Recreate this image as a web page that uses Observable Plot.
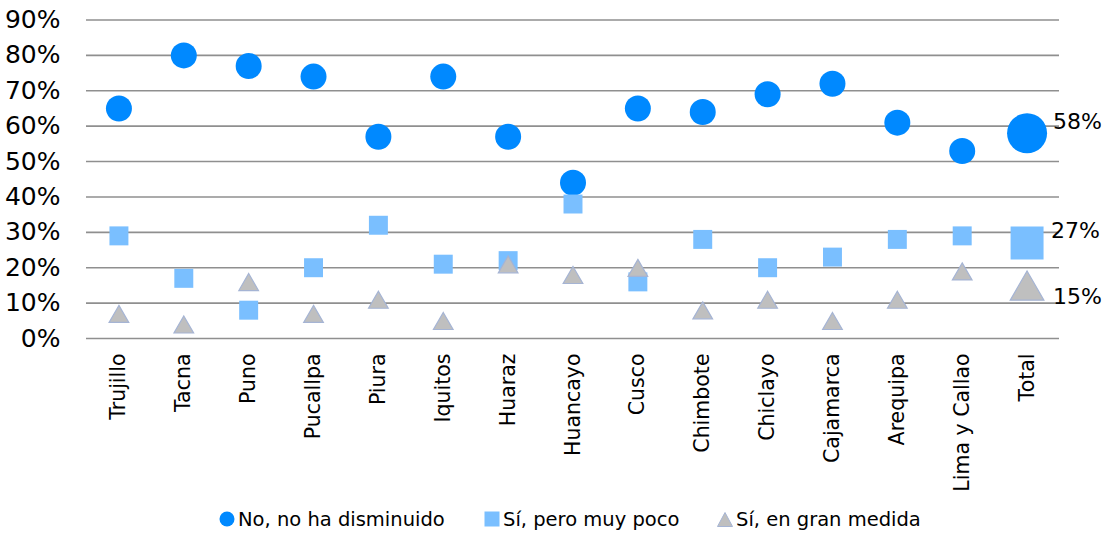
<!DOCTYPE html>
<html>
<head>
<meta charset="utf-8">
<script src="https://cdn.jsdelivr.net/npm/d3@7"></script>
<script src="https://cdn.jsdelivr.net/npm/@observablehq/plot@0.6"></script>
<style>
  html, body { margin: 0; padding: 0; background: #fff; }
  body { width: 1105px; height: 536px; overflow: hidden; position: relative; font-family: "DejaVu Sans", sans-serif; }
  #legend { position: absolute; top: 504px; left: 0; width: 1105px; height: 30px; font-size: 19.5px; color: #000; }
  .item { position: absolute; top: 0; display: flex; align-items: center; white-space: nowrap; height: 30px; }
  .item svg { margin-right: 3px; }
</style>
</head>
<body>
<div id="chart"></div>
<div id="legend"></div>
<script>
const ciudades = ["Trujillo","Tacna","Puno","Pucallpa","Piura","Iquitos","Huaraz","Huancayo","Cusco","Chimbote","Chiclayo","Cajamarca","Arequipa","Lima y Callao","Total"];
const noDisminuido = [65,80,77,74,57,74,57,44,65,64,69,72,61,53,58];
const muyPoco      = [29,17,8,20,32,21,22,38,16,28,20,23,28,29,27];
const granMedida   = [7,4,16,7,11,5,21,18,20,8,11,5,11,19,15];
const yTicks = [0,10,20,30,40,50,60,70,80,90];
const series = ["No, no ha disminuido","Sí, pero muy poco","Sí, en gran medida"];

const font = '"DejaVu Sans", sans-serif';
const cBlue = "#0089ff", cLight = "#7abfff", cGray = "#bfbfbf", cGrayStroke = "#a5b4d4";

const rows = (vals) => ciudades.map((c, i) => ({ciudad: c, v: vals[i]}));
const rNo = rows(noDisminuido), rMp = rows(muyPoco), rGm = rows(granMedida);
const notTotal = d => d.ciudad !== "Total";
const isTotal = d => d.ciudad === "Total";

const chart = Plot.plot({
  width: 1105,
  height: 490,
  marginLeft: 86,
  marginRight: 46,
  marginTop: 19.5,
  marginBottom: 152,
  style: {fontFamily: font, background: "#fff", overflow: "visible"},
  x: {type: "band", domain: ciudades, padding: 0, round: false},
  y: {domain: [0, 90]},
  marks: [
    Plot.ruleY(yTicks, {stroke: "#8f8f8f", strokeWidth: 1.6}),
    Plot.axisY(yTicks, {tickSize: 0, tickPadding: 26, fontSize: 25, tickFormat: d => d + "%", fill: "#000", label: null}),
    Plot.axisX({tickRotate: -90, tickSize: 0, tickPadding: 15, fontSize: 20.5, fill: "#000", label: null}),
    // circles
    Plot.dot(rNo.filter(notTotal), {x: "ciudad", y: "v", r: 13, fill: cBlue}),
    Plot.dot(rNo.filter(isTotal), {x: "ciudad", y: "v", r: 20, fill: cBlue}),
    // squares
    Plot.dot(rMp.filter(notTotal), {x: "ciudad", y: "v", symbol: "square", r: 10.7, fill: cLight}),
    Plot.dot(rMp.filter(isTotal), {x: "ciudad", y: "v", symbol: "square", r: 18.6, fill: cLight}),
    // triangles (shifted so the bounding box, not the centroid, sits on the value)
    Plot.dot(rGm.filter(notTotal), {x: "ciudad", y: "v", symbol: "triangle", r: 7.3, dy: 3, fill: cGray, stroke: cGrayStroke, strokeWidth: 1.2}),
    Plot.dot(rGm.filter(isTotal), {x: "ciudad", y: "v", symbol: "triangle", r: 12.5, dy: 5, fill: cGray, stroke: cGrayStroke, strokeWidth: 1.2}),
    // total labels
    Plot.text(rNo.filter(isTotal), {x: "ciudad", y: "v", text: d => d.v + "%", dx: 26, dy: -11, textAnchor: "start", fontSize: 22, fill: "#000"}),
    Plot.text(rMp.filter(isTotal), {x: "ciudad", y: "v", text: d => d.v + "%", dx: 24, dy: -12, textAnchor: "start", fontSize: 22, fill: "#000"}),
    Plot.text(rGm.filter(isTotal), {x: "ciudad", y: "v", text: d => d.v + "%", dx: 26, dy: 12, textAnchor: "start", fontSize: 22, fill: "#000"})
  ]
});
document.getElementById("chart").appendChild(chart);

// legend
const legend = document.getElementById("legend");
const legendItems = [
  {label: series[0], left: 219, svg: `<svg width="16" height="16"><circle cx="8" cy="8" r="7.5" fill="${cBlue}"/></svg>`},
  {label: series[1], left: 484, svg: `<svg width="16" height="16"><rect x="0.5" y="0.5" width="15" height="15" fill="${cLight}"/></svg>`},
  {label: series[2], left: 717, svg: `<svg width="16" height="16"><polygon points="8,1.5 15.5,15.5 0.5,15.5" fill="${cGray}" stroke="${cGrayStroke}" stroke-width="1"/></svg>`}
];
for (const it of legendItems) {
  const el = document.createElement("div");
  el.className = "item";
  el.style.left = it.left + "px";
  el.innerHTML = it.svg + `<span>${it.label}</span>`;
  legend.appendChild(el);
}
</script>
</body>
</html>
